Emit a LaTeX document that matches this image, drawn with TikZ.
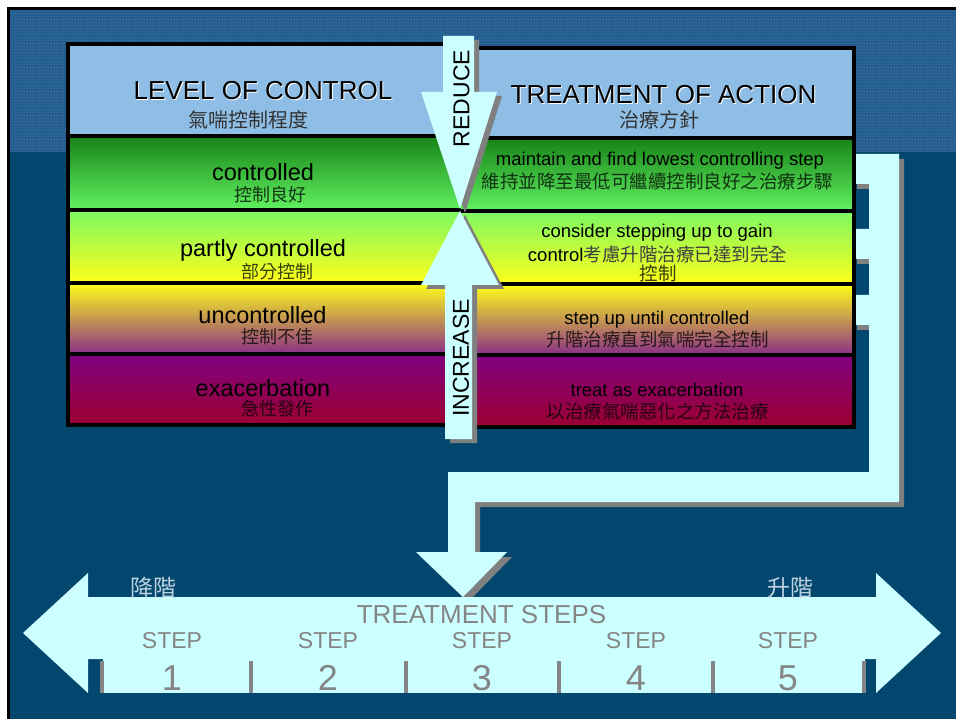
\documentclass[tikz,border=0pt]{standalone}
\usepackage{fontspec}
\setmainfont{Liberation Sans}
\newfontfamily\cjk{Noto Sans CJK TC}
\usetikzlibrary{patterns}
\definecolor{bgdark}{HTML}{03476F}
\definecolor{bandbase}{HTML}{235D8F}
\definecolor{banddot}{HTML}{6A9CCB}
\definecolor{pale}{HTML}{CCFFFF}
\definecolor{shgray}{HTML}{808080}
\definecolor{hdr}{HTML}{8EBEE6}
\definecolor{gA}{HTML}{178317}
\definecolor{gB}{HTML}{62F262}
\definecolor{gC}{HTML}{7CF862}
\definecolor{yel}{HTML}{FFFF1A}
\definecolor{pur}{HTML}{8A2E88}
\definecolor{purtop}{HTML}{800080}
\definecolor{crim}{HTML}{9C0030}
\definecolor{steptxt}{HTML}{858585}
\definecolor{cnpale}{HTML}{BDD2E0}
\newcommand\setfs[1]{\fontsize{#1}{#1}\selectfont}
\begin{document}
\begin{tikzpicture}[x=1pt,y=-1pt,
  lbl/.style={inner sep=0pt, outer sep=0pt, anchor=base},
  hdrtxt/.style={lbl, font=\setfs{26}},
  hdrcn/.style={lbl, font=\cjk\setfs{20}, text=black!80, text height=15pt, text depth=1pt},
  rowen/.style={lbl, font=\setfs{23.5}, text height=16pt},
  rowcn/.style={lbl, font=\cjk\setfs{18}, text=black, text opacity=.75, text height=13pt, text depth=1pt},
  acten/.style={lbl, font=\setfs{18.5}, text height=13pt},
  actcn/.style={lbl, font=\cjk\setfs{18.5}, text=black, text opacity=.75, text height=13pt, text depth=1pt},
  vtxt/.style={inner sep=0pt, outer sep=0pt, anchor=center, rotate=90, font=\setfs{23}},
  bdr/.style={line width=3.5pt, black},
  stepw/.style={lbl, font=\setfs{23}, text=steptxt},
  stepn/.style={lbl, font=\setfs{36}, text=steptxt},
  sep/.style={line width=3.5pt, steptxt},
  cnlbl/.style={lbl, font=\cjk\setfs{23}, text=cnpale}]
\useasboundingbox (0,0) rectangle (956,719);
% background
\fill[white] (0,0) rectangle (956,719);
\fill[black] (7,7) rectangle (956,719);
\fill[bgdark] (10,10) rectangle (956,719);
\fill[bandbase] (10,10) rectangle (956,152);
\fill[pattern=dots, pattern color=banddot] (10,10) rectangle (956,152);
% bracket connector (shadow + body)
\fill[shgray, shift={(5,5)}] (852,154) -- (899,154) -- (899,502) -- (475,502) -- (475,552) -- (507,552) -- (463,597) -- (416,552) -- (448,552) -- (448,472) -- (869,472) -- (869,325) -- (852,325) -- (852,295) -- (869,295) -- (869,259) -- (852,259) -- (852,229) -- (869,229) -- (869,184) -- (852,184) -- cycle;
\fill[pale] (852,154) -- (899,154) -- (899,502) -- (475,502) -- (475,552) -- (507,552) -- (463,597) -- (416,552) -- (448,552) -- (448,472) -- (869,472) -- (869,325) -- (852,325) -- (852,295) -- (869,295) -- (869,259) -- (852,259) -- (852,229) -- (869,229) -- (869,184) -- (852,184) -- cycle;
% left table
\fill[hdr] (68,44) rectangle (461,136);
\shade[top color=gA, bottom color=gB] (68,136) rectangle (461,210);
\shade[top color=gC, bottom color=yel] (68,210) rectangle (461,283);
\shade[top color=yel, bottom color=pur] (68,283) rectangle (461,354);
\shade[top color=purtop, bottom color=crim] (68,354) rectangle (461,425);
\draw[bdr] (461,44) -- (68,44) -- (68,425) -- (461,425);
\foreach \yy in {136,210,283,354} \draw[bdr] (68,\yy) -- (461,\yy);
% right table
\fill[hdr] (461,48) rectangle (854,138);
\shade[top color=gA, bottom color=gB] (461,138) rectangle (854,211);
\shade[top color=gC, bottom color=yel] (461,211) rectangle (854,284);
\shade[top color=yel, bottom color=pur] (461,284) rectangle (854,355);
\shade[top color=purtop, bottom color=crim] (461,355) rectangle (854,427);
\draw[bdr] (461,48) -- (854,48) -- (854,427) -- (461,427);
\foreach \yy in {138,211,284,355} \draw[bdr] (461,\yy) -- (854,\yy);
% header texts
\node[hdrtxt, text=white] (lvlS) at (264,101) {LEVEL OF CONTROL};
\node[hdrtxt] (lvl) at (263,100) {LEVEL OF CONTROL};
\node[hdrcn] (lvlcn) at (248.5,128) {氣喘控制程度};
\node[hdrtxt, text=white] (treS) at (664.5,105) {TREATMENT OF ACTION};
\node[hdrtxt] (tre) at (663.5,104) {TREATMENT OF ACTION};
\node[hdrcn] (trecn) at (659,128) {治療方針};
% left rows
\node[rowen] (r1) at (263,181) {controlled};
\node[rowcn] (r1c) at (270,201.5) {控制良好};
\node[rowen] (r2) at (263,257) {partly controlled};
\node[rowcn] (r2c) at (277.5,278.5) {部分控制};
\node[rowen] (r3) at (262.5,324) {uncontrolled};
\node[rowcn] (r3c) at (277.5,343.5) {控制不佳};
\node[rowen] (r4) at (263,396) {exacerbation};
\node[rowcn] (r4c) at (277.5,415.5) {急性發作};
% right rows
\node[acten] (a1) at (660,166) {maintain and find lowest controlling step};
\node[actcn] (a1c) at (657.5,189) {維持並降至最低可繼續控制良好之治療步驟};
\node[acten] (a2) at (657,238) {consider stepping up to gain};
\node[acten] (a2b) at (657.5,262) {control{\cjk\color{black!75}考慮升階治療已達到完全}};
\node[actcn] (a2c) at (658,281) {控制};
\node[acten] (a3) at (657,325) {step up until controlled};
\node[actcn] (a3c) at (657.5,347) {升階治療直到氣喘完全控制};
\node[acten] (a4) at (657,396) {treat as exacerbation};
\node[actcn] (a4c) at (657.5,418) {以治療氣喘惡化之方法治療};
% REDUCE arrow
\fill[shgray, shift={(5,4)}] (443,36) -- (474,36) -- (474,92) -- (497,92) -- (460,209) -- (421,92) -- (443,92) -- cycle;
\fill[pale] (443,36) -- (474,36) -- (474,92) -- (497,92) -- (460,209) -- (421,92) -- (443,92) -- cycle;
\node[vtxt] (red) at (461.5,98.5) {REDUCE};
% INCREASE arrow
\fill[shgray, shift={(5,4)}] (460,211) -- (499,285) -- (472,285) -- (472,439) -- (445,439) -- (445,285) -- (421,285) -- cycle;
\fill[pale] (460,211) -- (499,285) -- (472,285) -- (472,439) -- (445,439) -- (445,285) -- (421,285) -- cycle;
\node[vtxt] (inc) at (461,358) {INCREASE};
% bottom double arrow
\fill[pale] (23,633) -- (88,573) -- (88,597) -- (876,597) -- (876,573) -- (941,633) -- (876,693) -- (876,659) -- (88,659) -- (88,693) -- cycle;
\fill[pale] (103,659) rectangle (865,693);
\foreach \xx in {102,251,406,559,713,864} \draw[sep] (\xx,661) -- (\xx,693);
\node[cnlbl] (down) at (153,596) {降階};
\node[cnlbl] (up) at (790,596) {升階};
\node[lbl, font=\setfs{26}, text=steptxt] (ts) at (481.5,623) {TREATMENT STEPS};
\node[stepw] (s1) at (172,648) {STEP};
\node[stepw] (s2) at (328,648) {STEP};
\node[stepw] (s3) at (482,648) {STEP};
\node[stepw] (s4) at (636,648) {STEP};
\node[stepw] (s5) at (788,648) {STEP};
\node[stepn] (n1) at (172,690) {1};
\node[stepn] (n2) at (328,690) {2};
\node[stepn] (n3) at (482,690) {3};
\node[stepn] (n4) at (636,690) {4};
\node[stepn] (n5) at (788,690) {5};
\end{tikzpicture}
\end{document}
